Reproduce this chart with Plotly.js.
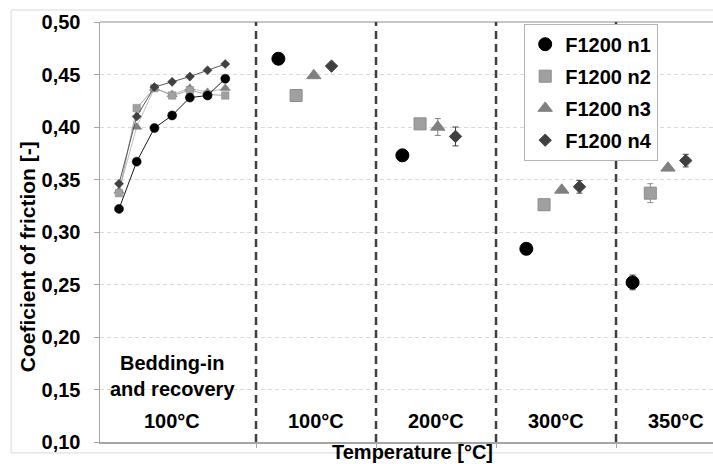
<!DOCTYPE html>
<html>
<head>
<meta charset="utf-8">
<script src="https://cdn.plot.ly/plotly-3.0.1.min.js"></script>
<style>html,body{margin:0;padding:0;overflow:hidden;background:#fff;}</style>
</head>
<body>
<div id="chart" style="width:713px;height:464px;"></div>
<script>
// ---- data ----
const seriesNames = ['F1200 n1', 'F1200 n2', 'F1200 n3', 'F1200 n4'];
const beddingCycles = [1, 2, 3, 4, 5, 6, 7];
const beddingN1 = [0.322, 0.367, 0.399, 0.411, 0.428, 0.430, 0.446];
const beddingN2 = [0.337, 0.418, 0.437, 0.430, 0.435, 0.431, 0.430];
const beddingN3 = [0.339, 0.400, 0.437, 0.431, 0.437, 0.433, 0.437];
const beddingN4 = [0.346, 0.410, 0.438, 0.443, 0.448, 0.454, 0.460];
const tempLabels = ['100°C', '200°C', '300°C', '350°C'];
const tempN1 = [0.465, 0.373, 0.284, 0.252];
const tempN2 = [0.430, 0.403, 0.326, 0.337];
const tempN3 = [0.449, 0.400, 0.340, 0.361];
const tempN4 = [0.458, 0.391, 0.343, 0.368];
const errN1 = [0, 0.003, 0.002, 0.007];
const errN2 = [0, 0, 0, 0.009];
const errN3 = [0, 0.008, 0, 0];
const errN4 = [0, 0.009, 0.006, 0.006];
const firstLabel = '100°C';
const beddingLabel = 'Bedding-in<br>and recovery';
// first x slot of each temperature block, boundaries between blocks
const blockStart = [10, 17, 24, 30];
const blockBounds = [8.736, 15.512, 22.288, 29.064, 35.84];

// ---- styles ----
const FONT = 'Liberation Sans, Arial, sans-serif';
const styles = [
  {sym: 'circle', col: '#000000', line: '#000000', lcol: '#1a1a1a', bs: 9, ts: 13},
  {sym: 'square', col: '#a0a0a0', line: '#8a8a8a', lcol: '#a6a6a6', bs: 7.5, ts: 12},
  {sym: 'triangle-up', col: '#808080', line: '#808080', lcol: '#bfbfbf', bs: 9, ts: 12.5},
  {sym: 'diamond', col: '#404040', line: '#404040', lcol: '#595959', bs: 7, ts: 9.5}
];
const bedding = [beddingN1, beddingN2, beddingN3, beddingN4];
const temps = [tempN1, tempN2, tempN3, tempN4];
const errs = [errN1, errN2, errN3, errN4];

const traces = [];
// bedding lines (drawn so n1 stays on top)
[2, 1, 3, 0].forEach(i => {
  const s = styles[i];
  traces.push({
    type: 'scatter', mode: 'lines+markers', x: beddingCycles, y: bedding[i],
    name: seriesNames[i], showlegend: false, legendgroup: 'g' + i,
    line: {color: s.lcol, width: 1},
    marker: {symbol: s.sym, size: s.bs, color: s.col, line: {color: s.line, width: 0.5}},
    hoverinfo: 'skip'
  });
});
for (let i = 0; i < 4; i++) {
  const s = styles[i];
  traces.push({
    type: 'scatter', mode: 'markers',
    x: blockStart.map(b => b + i), y: temps[i],
    name: seriesNames[i], legendgroup: 'g' + i, showlegend: true,
    marker: {symbol: s.sym, size: s.ts, color: s.col, line: {color: s.line, width: 1}},
    error_y: {type: 'data', array: errs[i], visible: true, color: s.col === '#000000' ? '#404040' : s.line, thickness: 1, width: 3}
  });
}

const shapes = [];
// chart border
shapes.push({type: 'rect', xref: 'paper', yref: 'paper', x0: -0.145, x1: 1.2, y0: -0.026, y1: 1.0286,
  line: {color: '#d9d9d9', width: 1}, layer: 'below'});
// top plot line
shapes.push({type: 'line', xref: 'paper', yref: 'paper', x0: 0, x1: 1, y0: 1, y1: 1,
  line: {color: '#b3b3b3', width: 1.5}});
// vertical dashed separators
blockBounds.slice(0, 4).forEach(b => shapes.push({
  type: 'line', xref: 'x', yref: 'paper', x0: b, x1: b, y0: 0, y1: 1,
  line: {color: '#404040', width: 2.5, dash: '8px,5px'}
}));

const lblFont = {family: FONT, size: 20, color: '#000', weight: 'bold'};
const annotations = [];
const beddingMid = (beddingCycles[0] + beddingCycles[beddingCycles.length - 1]) / 2;
annotations.push({xref: 'x', yref: 'paper', x: beddingMid, y: 0.051, xanchor: 'center', yanchor: 'middle',
  text: firstLabel, showarrow: false, font: lblFont});
annotations.push({xref: 'x', yref: 'paper', x: beddingMid, y: 0.157, xanchor: 'center', yanchor: 'middle',
  text: beddingLabel, showarrow: false, font: lblFont});
tempLabels.forEach((t, k) => annotations.push({
  xref: 'x', yref: 'paper', x: (blockBounds[k] + blockBounds[k + 1]) / 2, y: 0.051,
  xanchor: 'center', yanchor: 'middle', text: t, showarrow: false, font: lblFont
}));
annotations.push({xref: 'paper', yref: 'paper', x: -0.119, y: 0.44, textangle: -90,
  text: 'Coeficient of friction [-]', showarrow: false, xanchor: 'center', yanchor: 'middle',
  font: {family: FONT, size: 21, color: '#000', weight: 'bold'}});
annotations.push({xref: 'paper', yref: 'paper', x: 0.509, y: -0.024,
  text: 'Temperature [°C]', showarrow: false, xanchor: 'center', yanchor: 'middle',
  font: lblFont});

const layout = {
  width: 713, height: 464,
  margin: {l: 100, r: 0, t: 22, b: 22, pad: 0},
  paper_bgcolor: '#fff', plot_bgcolor: '#fff',
  font: {family: FONT, size: 20, color: '#000', weight: 'bold'},
  showlegend: true,
  legend: {x: 0.692, y: 0.996, xanchor: 'left', yanchor: 'top', bgcolor: '#fff',
    bordercolor: '#b3b3b3', borderwidth: 1, tracegroupgap: 3,
    font: {family: FONT, size: 20, color: '#000', weight: 'bold'}},
  xaxis: {range: [-0.073, 34.54], showgrid: false, zeroline: false, showline: true,
    linecolor: '#a6a6a6', linewidth: 1.5, ticks: 'outside', ticklen: 4, tickcolor: '#a6a6a6',
    tickmode: 'array', tickvals: blockBounds.slice(0, 4), ticktext: ['', '', '', ''], fixedrange: true},
  yaxis: {range: [0.10, 0.50], dtick: 0.05, tick0: 0.10, tickformat: '.2f',
    showgrid: true, gridcolor: '#d9d9d9', griddash: '4px,3px', gridwidth: 1,
    zeroline: false, showline: true, linecolor: '#a6a6a6', linewidth: 1.5,
    ticks: 'outside', ticklen: 5, tickcolor: '#a6a6a6', ticklabelstandoff: 9,
    tickfont: {family: FONT, size: 20, color: '#000', weight: 'bold'}, fixedrange: true},
  separators: ',.',
  shapes: shapes,
  annotations: annotations
};

Plotly.newPlot('chart', traces, layout, {staticPlot: true, displayModeBar: false});
</script>
</body>
</html>
